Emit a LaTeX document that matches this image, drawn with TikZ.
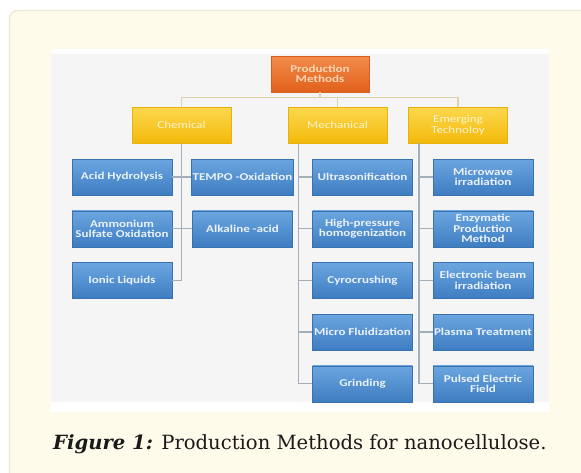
\documentclass[tikz,border=0pt]{standalone}
\usepackage{fontspec}
\setmainfont{DejaVu Serif}
\newfontfamily\smartfont[FakeStretch=1.24]{Carlito}
\definecolor{cardFill}{HTML}{FFFBEA}
\definecolor{cardLine}{HTML}{ECE7D6}
\definecolor{panel}{HTML}{F5F5F5}
\definecolor{rootTop}{HTML}{F28C4A}
\definecolor{rootBot}{HTML}{E2601C}
\definecolor{rootLine}{HTML}{D85E20}
\definecolor{rootText}{HTML}{FAD6B4}
\definecolor{catTop}{HTML}{FBD84E}
\definecolor{catBot}{HTML}{F3B90B}
\definecolor{catLine}{HTML}{E8B10C}
\definecolor{catText}{HTML}{FFF3CC}
\definecolor{leafTop}{HTML}{6CA6E0}
\definecolor{leafBot}{HTML}{3E7DC2}
\definecolor{leafLine}{HTML}{3A72AE}
\definecolor{leafText}{HTML}{EAF2FB}
\definecolor{wireTop}{HTML}{DDD2A8}
\definecolor{wireLow}{HTML}{A5AFBA}
\definecolor{capText}{HTML}{1A1A1A}
\tikzset{
  box/.style={rectangle, minimum height=36pt, inner sep=1pt, align=center},
  rootbox/.style={box, minimum width=98pt, top color=rootTop, bottom color=rootBot, draw=rootLine, line width=0.4pt, text=rootText, font=\smartfont\bfseries\fontsize{10.5}{10.5}\selectfont},
  catbox/.style={box, minimum width=99pt, top color=catTop, bottom color=catBot, draw=catLine, line width=0.4pt, text=catText, font=\smartfont\fontsize{10.5}{11.5}\selectfont},
  leafbox/.style={box, minimum width=100pt, top color=leafTop, bottom color=leafBot, draw=leafLine, line width=0.4pt, text=leafText, font=\smartfont\bfseries\fontsize{10.5}{10.5}\selectfont},
  topwire/.style={draw=wireTop, line width=1.1pt},
  wire/.style={draw=wireLow, line width=1.1pt},
}
\begin{document}
\begin{tikzpicture}[x=1pt,y=-1pt]
\useasboundingbox (0,0) rectangle (581,472);
\fill[white] (0,0) rectangle (581,472);
\begin{scope}
  \clip (0,0) rectangle (581,472);
  \draw[draw=cardLine, fill=cardFill, line width=1.3pt, rounded corners=8pt] (9.5,10.5) rectangle (620,520);
\end{scope}
\fill[white] (51,49) rectangle (549,412);
\fill[panel] (51,54) rectangle (549,402);

\node[rootbox] (root) at (320,74) {Production\\Methods};
\node[catbox] (chem) at (181.5,125) {Chemical};
\node[catbox] (mech) at (337.5,125) {Mechanical};
\node[catbox] (emer) at (458,125) {Emerging\\Technoloy};

\node[leafbox] (acid)  at (122,177)   {Acid Hydrolysis};
\node[leafbox] (amm)   at (122,228.7) {Ammonium\\Sulfate Oxidation};
\node[leafbox] (ionic) at (122,280.3) {Ionic Liquids};
\node[leafbox] (tempo) at (242.5,177)   {TEMPO -Oxidation};
\node[leafbox] (alk)   at (242.5,228.7) {Alkaline -acid};

\node[leafbox] (ultra) at (362.5,177)   {Ultrasonification};
\node[leafbox] (hpg)   at (362.5,228.7) {High-pressure\\homogenization};
\node[leafbox] (cyro)  at (362.5,280.3) {Cyrocrushing};
\node[leafbox] (micro) at (362.5,332)   {Micro Fluidization};
\node[leafbox] (grind) at (362.5,383.7) {Grinding};

\node[leafbox] (micw)   at (483,177)   {Microwave\\irradiation};
\node[leafbox] (enz)    at (483,228.7) {Enzymatic\\Production\\Method};
\node[leafbox] (ebeam)  at (483,280.3) {Electronic beam\\irradiation};
\node[leafbox] (plasma) at (483,332)   {Plasma Treatment};
\node[leafbox] (pulse)  at (483,383.7) {Pulsed Electric\\Field};

\draw[topwire] (chem.north) -- ++(0,-9) -| (root.south);
\draw[topwire] (mech.north) -- ++(0,-9) -| (root.south);
\draw[topwire] (emer.north) -- ++(0,-9) -| (root.south);

\draw[wire] (chem.south) |- (ionic.east);
\draw[wire] (acid.east) -- (tempo.west);
\draw[wire] (amm.east) -- (alk.west);

\coordinate (mtrunk) at (298.3,143);
\draw[wire] (mtrunk) |- (grind.west);
\foreach \n in {ultra,hpg,cyro,micro} \draw[wire] (mtrunk |- \n.west) -- (\n.west);

\coordinate (etrunk) at (419,143);
\draw[wire] (etrunk) |- (pulse.west);
\foreach \n in {micw,enz,ebeam,plasma} \draw[wire] (etrunk |- \n.west) -- (\n.west);

\node[anchor=base west, inner sep=0pt, text=capText, font=\fontsize{19.6}{22}\selectfont] (cap) at (53,449) {\textbf{\textit{Figure 1:}} Production Methods for nanocellulose.};
\end{tikzpicture}
\end{document}
